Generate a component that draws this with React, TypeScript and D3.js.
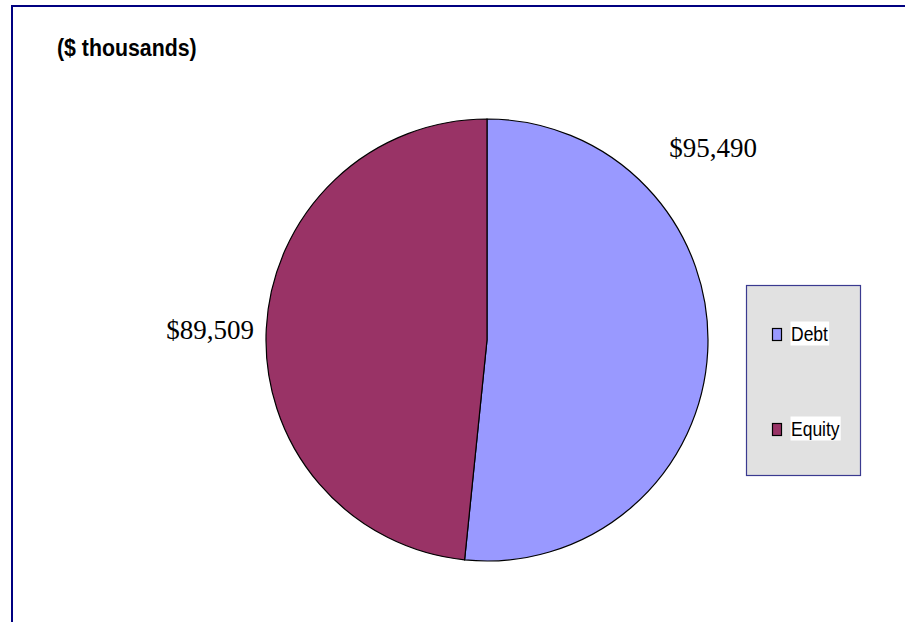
import React, { useEffect, useRef } from "react";
import * as d3 from "d3";

const categories = ["Debt", "Equity"];
const values = [95490, 89509];
const valueLabels = ["$95,490", "$89,509"];
const colors = ["#9999FF", "#993366"];
const title = "($ thousands)";

export default function App() {
  const ref = useRef<SVGSVGElement | null>(null);

  useEffect(() => {
    const svg = d3.select(ref.current);
    svg.selectAll("*").remove();

    // outer border (extends beyond window at right/bottom)
    svg.append("rect")
      .attr("x", 12).attr("y", 6).attr("width", 1000).attr("height", 700)
      .attr("fill", "white").attr("stroke", "#000080").attr("stroke-width", 2);

    // title
    svg.append("text")
      .attr("transform", "translate(57,56) scale(0.87,1)")
      .attr("font-family", "Liberation Sans, Arial, sans-serif")
      .attr("font-weight", "bold")
      .attr("font-size", 24.5)
      .attr("fill", "#000")
      .text(title);

    const cx = 487, cy = 340, r = 221;
    const pie = d3.pie<number>().sort(null).value(d => d);
    const arcs = pie(values);
    const arc = d3.arc<d3.PieArcDatum<number>>().innerRadius(0).outerRadius(r);
    const g = svg.append("g").attr("transform", `translate(${cx},${cy})`);
    g.selectAll("path").data(arcs).enter().append("path")
      .attr("d", d => arc(d) as string)
      .attr("fill", (_, i) => colors[i])
      .attr("stroke", "#000").attr("stroke-width", 1.2);

    // value labels
    const labelPos = [[713, 157], [210, 339]];
    valueLabels.forEach((t, i) => {
      svg.append("text")
        .attr("x", labelPos[i][0]).attr("y", labelPos[i][1])
        .attr("text-anchor", "middle")
        .attr("font-family", "Liberation Serif, Times New Roman, serif")
        .attr("font-size", 27)
        .attr("fill", "#000")
        .text(t);
    });

    // legend
    const lg = svg.append("g");
    lg.append("rect")
      .attr("x", 746.5).attr("y", 285.5).attr("width", 114).attr("height", 190)
      .attr("fill", "#e1e1e1").attr("stroke", "#3a3a90").attr("stroke-width", 1.2);
    const rowY = [341, 436];
    categories.forEach((c, i) => {
      const y = rowY[i];
      const tg = lg.append("g");
      const txt = tg.append("text")
        .attr("transform", `translate(791,${y}) scale(0.875,1)`)
        .attr("font-family", "Liberation Sans, Arial, sans-serif")
        .attr("font-size", 20)
        .attr("fill", "#000")
        .text(c);
      const bb = (txt.node() as SVGTextElement).getBBox();
      tg.insert("rect", "text")
        .attr("x", 790.5).attr("y", y - 19.5)
        .attr("width", bb.width * 0.875 + 1).attr("height", 24)
        .attr("fill", "#fff");
      lg.append("rect")
        .attr("x", 772.5).attr("y", y - 12.5).attr("width", 9).attr("height", 12)
        .attr("fill", colors[i]).attr("stroke", "#000").attr("stroke-width", 1.2);
    });
  }, []);

  return (
    <svg
      ref={ref}
      width={905}
      height={622}
      style={{ position: "absolute", left: 0, top: 0, display: "block", background: "#fff" }}
    />
  );
}
